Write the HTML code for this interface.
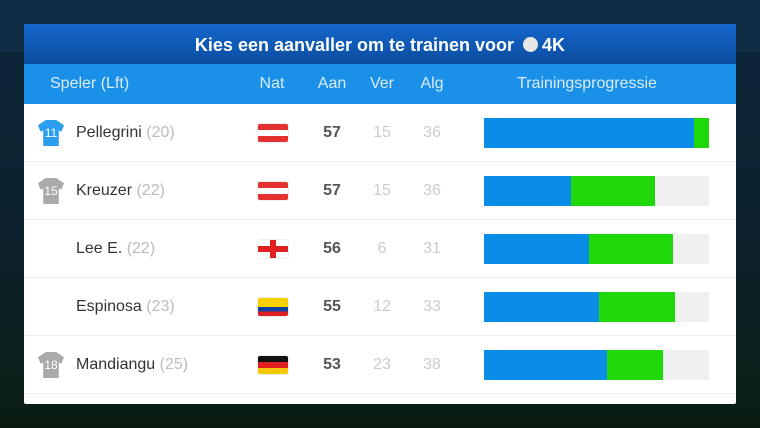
<!DOCTYPE html><html><head><style>
body{margin:0;width:760px;height:428px;overflow:hidden;font-family:"Liberation Sans",sans-serif;background:linear-gradient(#0d2a3e 0,#0c2436 60px,#0d2230 200px,#0b1f18 400px,#0a1a0e 428px);position:relative}
.top{position:absolute;left:0;top:0;width:760px;height:52px;background:#0f2e45}
.panel{position:absolute;left:24px;top:24px;width:712px;height:380px;background:#fff;border-radius:2px;overflow:hidden}
.title{height:40px;background:linear-gradient(#1466cc,#0b4d9e);color:#fff;font-weight:bold;font-size:18px;text-align:center;line-height:42px}
.coin{display:inline-block;width:15px;height:15px;border-radius:50%;background:#e6e6e6;vertical-align:-1px;margin:0 4px}
.hdr{height:40px;background:#1b90e8;color:#d8ecfc;font-size:16px;position:relative}
.hdr span,.row span{position:absolute;top:0;line-height:40px}
.row{height:57px;border-bottom:1px solid #eee;position:relative}
.row span{line-height:57px}
.c{transform:translateX(-50%)}
.nm{left:52px;font-size:16px;color:#333}.nm i{font-style:normal;color:#bbb}
.aan{left:308px;font-weight:bold;color:#555;font-size:16px}
.ver,.alg{color:#ccc;font-size:16px}
.shirt{position:absolute;left:14px;top:16px;width:26px;height:26px;color:#fff;font-size:12px;text-align:center;line-height:26px;clip-path:polygon(30% 0,70% 0,100% 20%,90% 45%,80% 40%,80% 100%,20% 100%,20% 40%,10% 45%,0 20%)}
.flag{position:absolute;left:234px;top:20px;width:30px;height:18px;border-radius:2px;overflow:hidden;box-shadow:0 0 1px #999}
.bar{position:absolute;left:460px;top:14px;width:225px;height:30px;background:#f0f0f0}
.bar b{position:absolute;top:0;height:30px}
.bl{background:#0a8de6;left:0}.gr{background:#1ed80a}
</style></head><body>
<div class="top"></div>
<div class="panel">
<div class="title">Kies een aanvaller om te trainen voor <span class="coin"></span>4K</div>
<div class="hdr"><span style="left:26px">Speler (Lft)</span><span class="c" style="left:248px">Nat</span><span class="c" style="left:308px">Aan</span><span class="c" style="left:358px">Ver</span><span class="c" style="left:408px">Alg</span><span class="c" style="left:563px">Trainingsprogressie</span></div>

<div class="row"><div class="shirt" style="background:#2c9ef0">11</div><span class="nm">Pellegrini <i>(20)</i></span><div class="flag" style="background:linear-gradient(#e53030 33%,#fff 33%,#fff 66%,#e53030 66%)"></div><span class="aan c" style="left:308px">57</span><span class="ver c" style="left:358px">15</span><span class="alg c" style="left:408px">36</span><div class="bar"><b class="bl" style="width:210px"></b><b class="gr" style="left:210px;width:15px"></b></div></div>

<div class="row"><div class="shirt" style="background:#aaa">15</div><span class="nm">Kreuzer <i>(22)</i></span><div class="flag" style="background:linear-gradient(#e53030 33%,#fff 33%,#fff 66%,#e53030 66%)"></div><span class="aan c" style="left:308px">57</span><span class="ver c" style="left:358px">15</span><span class="alg c" style="left:408px">36</span><div class="bar"><b class="bl" style="width:87px"></b><b class="gr" style="left:87px;width:84px"></b></div></div>

<div class="row"><span class="nm">Lee E. <i>(22)</i></span><div class="flag" style="background:linear-gradient(90deg,transparent 12px,#e02020 12px,#e02020 18px,transparent 18px),linear-gradient(#fff 6px,#e02020 6px,#e02020 12px,#fff 12px)"></div><span class="aan c" style="left:308px">56</span><span class="ver c" style="left:358px">6</span><span class="alg c" style="left:408px">31</span><div class="bar"><b class="bl" style="width:105px"></b><b class="gr" style="left:105px;width:84px"></b></div></div>

<div class="row"><span class="nm">Espinosa <i>(23)</i></span><div class="flag" style="background:linear-gradient(#f7d000 50%,#1040a0 50%,#1040a0 75%,#e02020 75%)"></div><span class="aan c" style="left:308px">55</span><span class="ver c" style="left:358px">12</span><span class="alg c" style="left:408px">33</span><div class="bar"><b class="bl" style="width:115px"></b><b class="gr" style="left:115px;width:76px"></b></div></div>

<div class="row"><div class="shirt" style="background:#aaa">18</div><span class="nm">Mandiangu <i>(25)</i></span><div class="flag" style="background:linear-gradient(#111 33%,#e02020 33%,#e02020 66%,#f7c800 66%)"></div><span class="aan c" style="left:308px">53</span><span class="ver c" style="left:358px">23</span><span class="alg c" style="left:408px">38</span><div class="bar"><b class="bl" style="width:123px"></b><b class="gr" style="left:123px;width:56px"></b></div></div>
</div>
</body></html>
